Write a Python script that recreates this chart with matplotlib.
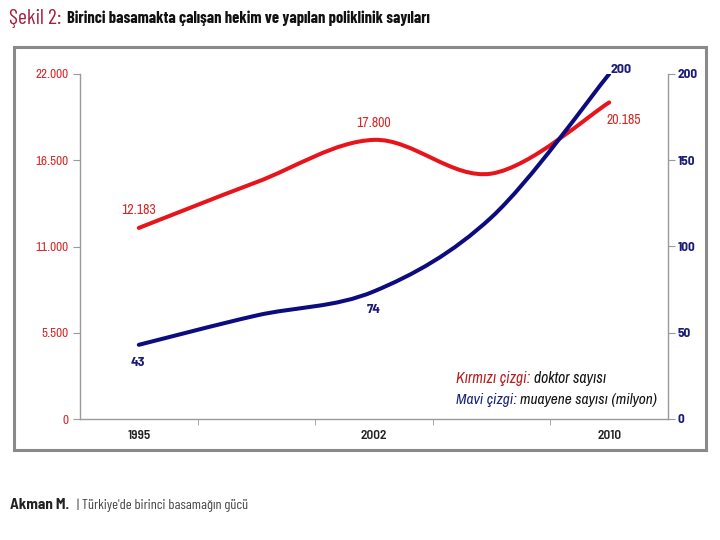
import matplotlib
matplotlib.use('Agg')
import matplotlib.pyplot as plt
from matplotlib.path import Path
from matplotlib.patches import PathPatch, Rectangle
import numpy as np

# ---- data ----
categories = ['1995', '', '2002', '', '2010']
doctors = [12183, 15100, 17800, 15650, 20185]
exams = [43, 60, 74, 117, 200]
doctor_labels = ['12.183', '', '17.800', '', '20.185']
exam_labels = ['43', '', '74', '', '200']
left_ticks = [0, 5500, 11000, 16500, 22000]
left_tick_labels = ['0', '5.500', '11.000', '16.500', '22.000']
right_ticks = [0, 50, 100, 150, 200]
right_tick_labels = ['0', '50', '100', '150', '200']

NARROW = ['Archivo Narrow', 'DejaVu Sans']
BOLDN = ['Barlow Semi Condensed', 'Archivo Narrow', 'DejaVu Sans']
COND = ['Barlow Condensed', 'Archivo Narrow', 'DejaVu Sans']
plt.rcParams['font.family'] = NARROW

RED = '#e8141c'
NAVY = '#0c0c80'
RED_TXT = '#d42a2a'
NAVY_TXT = '#1c1c78'
GRAY = '#9a9a9a'


def smooth_path(xs, ys):
    pts = np.column_stack([xs, ys]).astype(float)
    n = len(pts)
    verts = [pts[0]]
    codes = [Path.MOVETO]
    for i in range(n - 1):
        p0 = pts[max(i - 1, 0)]
        p1 = pts[i]
        p2 = pts[i + 1]
        p3 = pts[min(i + 2, n - 1)]
        c1 = p1 + (p2 - p0) / 6.0
        c2 = p2 - (p3 - p1) / 6.0
        verts += [c1, c2, p2]
        codes += [Path.CURVE4] * 3
    return Path(verts, codes)


fig = plt.figure(figsize=(7.2, 5.4), dpi=100)
fig.patch.set_facecolor('white')
renderer = fig.canvas.get_renderer()

# outer frame
fig.patches.append(Rectangle((14 / 720, 1 - 450 / 540), 692 / 720, 403 / 540,
                             transform=fig.transFigure, fill=False,
                             edgecolor='#8a8a8a', lw=2.2))

ax = fig.add_axes([80 / 720, 1 - 419 / 540, 588 / 720, 345 / 540])
ax2 = ax.twinx()

x = np.arange(len(categories))
ax.set_xlim(-0.5, len(categories) - 0.5)
ax.set_ylim(0, 22000)
ax2.set_ylim(0, 200)

ax.add_patch(PathPatch(smooth_path(x, doctors), fill=False, edgecolor=RED,
                       lw=2.9, capstyle='round', zorder=3))
ax2.add_patch(PathPatch(smooth_path(x, exams), fill=False, edgecolor=NAVY,
                        lw=2.9, capstyle='round', zorder=3))

# spines
for a in (ax, ax2):
    a.spines['top'].set_visible(False)
    for s in ('left', 'right', 'bottom'):
        a.spines[s].set_color(GRAY)
        a.spines[s].set_linewidth(1.0)
ax.spines['right'].set_visible(False)
ax2.spines['left'].set_visible(False)
ax2.spines['bottom'].set_visible(False)

# x axis
ax.set_xticks(x[::2])
ax.set_xticklabels([c for c in categories if c], fontsize=9.5, color='#222222',
                   family=BOLDN, fontweight='semibold')
ax.tick_params(axis='x', which='major', length=0, pad=8)
ax.set_xticks(x[:-1] + 0.5, minor=True)
ax.tick_params(axis='x', which='minor', length=4, color=GRAY, direction='out')

# y axes
ax.set_yticks(left_ticks)
ax.set_yticklabels(left_tick_labels, fontsize=9.5, color=RED_TXT)
ax.tick_params(axis='y', length=5, color=GRAY, pad=3)
ax2.set_yticks(right_ticks)
ax2.set_yticklabels(right_tick_labels, fontsize=9.5, color=NAVY_TXT,
                    family=BOLDN, fontweight='bold')
ax2.tick_params(axis='y', length=5, color=GRAY, pad=2)


# data labels (offsets in pixels)
def dlabel(a, i, vals, labels, dx, dy, color, **kw):
    a.annotate(labels[i], (x[i], vals[i]), xytext=(dx, dy),
               textcoords='offset pixels', ha='center', va='center',
               fontsize=10, color=color, **kw)


dlabel(ax, 0, doctors, doctor_labels, 0, 18, RED_TXT)
dlabel(ax, 2, doctors, doctor_labels, 0, 17, RED_TXT)
dlabel(ax, 4, doctors, doctor_labels, 15, -18, RED_TXT)
dlabel(ax2, 0, exams, exam_labels, -1, -18, NAVY_TXT, family=BOLDN, fontweight='bold')
dlabel(ax2, 2, exams, exam_labels, 0, -18, NAVY_TXT, family=BOLDN, fontweight='bold')
dlabel(ax2, 4, exams, exam_labels, 12, 4, NAVY_TXT, family=BOLDN, fontweight='bold')


def fit_text(x0_px, x1_px, y_px, parts, base=10, **kw):
    """parts: list of (string, color, extra-kwargs, relative size)."""
    def draw(scale):
        objs = []
        xpos = x0_px
        for s, col, extra, rel in parts:
            t = fig.text(xpos / 720, 1 - y_px / 540, s, color=col, va='center',
                         ha='left', fontsize=base * rel * scale, **kw, **extra)
            bb = t.get_window_extent(renderer=renderer)
            xpos = bb.x1
            objs.append(t)
        return objs, xpos
    objs, xend = draw(1.0)
    scale = (x1_px - x0_px) / max(xend - x0_px, 1)
    for t in objs:
        t.remove()
    draw(scale)


# legend-like notes
fit_text(456, 607, 379, [('Kırmızı çizgi: ', '#b81e1e', {}, 1.0),
                         ('doktor sayısı', '#111111', {}, 1.0)],
         fontstyle='italic')
fit_text(456, 658, 400, [('Mavi çizgi: ', '#1a2478', {}, 1.0),
                         ('muayene sayısı (milyon)', '#111111', {}, 1.0)],
         fontstyle='italic')

# title
fit_text(9, 61, 18, [('Şekil 2:', '#a3203c', {'family': COND}, 1.0)])
fit_text(67, 429, 18, [('Birinci basamakta çalışan hekim ve yapılan poliklinik sayıları',
                        '#111111', {'family': COND, 'fontweight': 'bold'}, 1.0)])

# footer
author = fig.text(10 / 720, 1 - 505 / 540, 'Akman M.', color='#222222', va='center',
                  ha='left', fontsize=11, family=BOLDN, fontweight='bold')
a_end = author.get_window_extent(renderer=renderer).x1
fit_text(a_end + 8, 248, 505, [('| Türkiye\'de birinci basamağın gücü', '#444444',
                                {'family': COND}, 1.0)])

fig.savefig('out.png', dpi=100)
